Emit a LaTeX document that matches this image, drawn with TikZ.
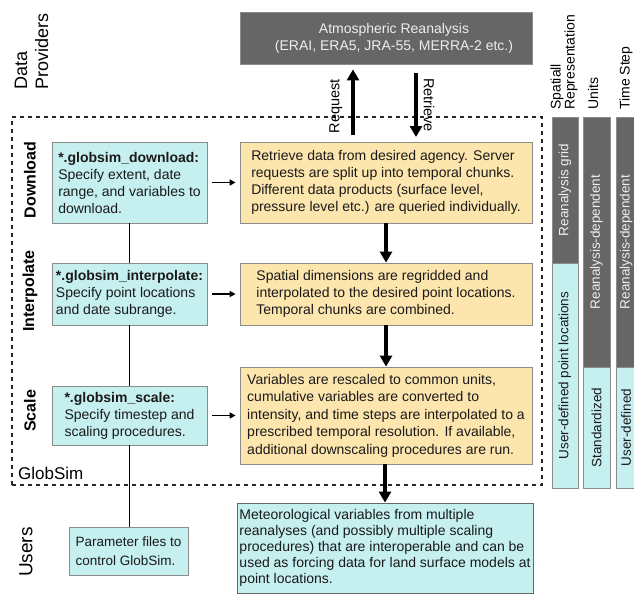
\documentclass[tikz,border=0pt]{standalone}
\usepackage{fontspec}
\setmainfont{Liberation Sans}
\usetikzlibrary{arrows.meta}
\definecolor{cyanfill}{HTML}{C6EFF0}
\definecolor{orangefill}{HTML}{FDE5AE}
\definecolor{darkfill}{HTML}{666666}
\definecolor{lighttext}{HTML}{EEEEEE}
\definecolor{edgegray}{HTML}{8C8C8C}
\definecolor{inktext}{HTML}{1A1A1A}
\newcommand{\fsz}[2]{\fontsize{#1}{#2}\selectfont}
\begin{document}
\begin{tikzpicture}[x=1pt,y=-1pt,
  box/.style={draw=edgegray, line width=0.8pt, inner sep=0pt, align=left, text=inktext, font=\fsz{14}{17}},
  cyanbox/.style={box, fill=cyanfill},
  orangebox/.style={box, fill=orangefill},
  darkbox/.style={box, fill=darkfill, text=lighttext, align=center},
  colbox/.style={draw=edgegray, line width=0.8pt, inner sep=0pt, rotate=90, font=\fsz{13.5}{16}},
  colgray/.style={colbox, fill=darkfill, text=lighttext},
  colcyan/.style={colbox, fill=cyanfill, text=inktext},
  hdr/.style={rotate=90, align=left, inner sep=0pt, font=\fsz{14}{13}},
  stage/.style={rotate=90, inner sep=0pt, font=\fsz{16}{19}\bfseries},
  bigarrow/.style={line width=3.5pt, -{Triangle[length=11pt,width=12pt]}},
  smallarrow/.style={line width=1.5pt, -{Triangle[length=6pt,width=6pt]}},
  link/.style={line width=1.5pt},
  frame/.style={draw=black!85, line width=1.5pt, dash pattern=on 4pt off 4pt, inner sep=0pt}
]
\useasboundingbox (0,0) rectangle (634,594);

% dashed GlobSim frame
\node[frame, minimum width=530, minimum height=368] (gsframe) at (277,301) {};
\node[anchor=west, inner sep=0pt, font=\fsz{17}{20}] (gslabel) at (18,473) {GlobSim};

% side labels
\node[rotate=90, anchor=west, align=left, inner sep=0pt, font=\fsz{18}{21}] (dp) at (31.5,90) {Data\\Providers};
\node[rotate=90, inner sep=0pt, font=\fsz{19}{22}] (users) at (26,552) {Users};
\node[stage] (lbdl) at (30,180) {Download};
\node[stage] (lbip) at (30,291) {Interpolate};
\node[stage] (lbsc) at (30,411) {Scale};

% data provider
\node[darkbox, minimum width=292, minimum height=52] (atmos) at (386,38)
  {\hspace*{16pt}Atmospheric Reanalysis\\\hspace*{16pt}(ERAI, ERA5, JRA-55, MERRA-2 etc.)};

% request / retrieve
\coordinate (reqfoot) at (353,135);
\coordinate (retfoot) at (416,137);
\draw[bigarrow, shorten >=5pt] (reqfoot) -- (reqfoot |- atmos.south);
\draw[bigarrow, shorten <=9pt] (retfoot |- atmos.south) -- (retfoot);
\node[rotate=90, inner sep=0pt, font=\fsz{14.5}{17}] (reqlbl) at (336,106) {Request};
\node[rotate=-90, inner sep=0pt, font=\fsz{14.5}{17}] (retlbl) at (429,105) {Retrieve};

% user boxes
\node[cyanbox, minimum width=155, minimum height=81] (dl) at (129.5,182.5)
  {\textbf{*.globsim\_download:}\\Specify extent, date\\range, and variables to\\download.};
\node[cyanbox, minimum width=155, minimum height=62] (ip) at (129.5,294)
  {\textbf{*.globsim\_interpolate:}\\Specify point locations\\and date subrange.};
\node[cyanbox, minimum width=155, minimum height=59] (sc) at (129.5,415.5)
  {\textbf{*.globsim\_scale:}\\Specify timestep and\\scaling procedures.};
\node[cyanbox, minimum width=119, minimum height=48, font=\fsz{13.5}{18.5}] (pf) at (128.5,551)
  {Parameter files to\\control GlobSim.};

% process boxes
\node[orangebox, minimum width=292, minimum height=81] (or1) at (386,182.5)
  {Retrieve data from desired agency. Server\\requests are split up into temporal chunks.\\Different data products (surface level,\\pressure level etc.) are queried individually.};
\node[orangebox, minimum width=292, minimum height=62] (or2) at (386,294)
  {Spatial dimensions are regridded and\\interpolated to the desired point locations.\\Temporal chunks are combined.};
\node[orangebox, minimum width=292, minimum height=97, font=\fsz{14}{17.5}] (or3) at (386,415.5)
  {Variables are rescaled to common units,\\cumulative variables are converted to\\intensity, and time steps are interpolated to a\\prescribed temporal resolution. If available,\\additional downscaling procedures are run.};
\node[cyanbox, draw=black!60, minimum width=296, minimum height=90, font=\fsz{14}{16}] (out) at (385,548)
  {Meteorological variables from multiple\\reanalyses (and possibly multiple scaling\\procedures) that are interoperable and can be\\used as forcing data for land surface models at\\point locations.};

% connectors
\draw[link] (dl.south) -- (ip.north);
\draw[link] (ip.south) -- (sc.north);
\draw[link] (sc.south) -- (sc.south |- pf.north);
\draw[smallarrow, shorten <=5pt, shorten >=4pt] (dl.east) -- (or1.west);
\draw[smallarrow, shorten <=5pt, shorten >=4pt] (ip.east) -- (or2.west);
\draw[smallarrow, shorten <=5pt, shorten >=4pt] (sc.east) -- (or3.west);
\draw[bigarrow] (or1.south) -- (or2.north);
\draw[bigarrow] (or2.south) -- (or3.north);
\draw[bigarrow] (or3.south -| out.north) -- (out.north);

% right-hand columns
\node[hdr, anchor=west] (h1) at (564,110) {Spatiall\\Representation};
\node[hdr, anchor=west] (h2) at (593,110) {Units};
\node[hdr, anchor=west] (h3) at (626,110) {Time Step};
\node[colgray, minimum width=146, minimum height=26] (c1g) at (565,190) {Reanalysis grid};
\node[colcyan, minimum width=225, minimum height=26] (c1c) at (565,375.5) {User-defined point locations};
\node[colgray, minimum width=250, minimum height=27] (c2g) at (596.5,242) {Reanalysis-dependent};
\node[colcyan, minimum width=121, minimum height=27] (c2c) at (596.5,427.5) {Standardized};
\node[colgray, minimum width=250, minimum height=20] (c3g) at (626,242) {Reanalysis-dependent};
\node[colcyan, minimum width=121, minimum height=20] (c3c) at (626,427.5) {User-defined};
\end{tikzpicture}
\end{document}
